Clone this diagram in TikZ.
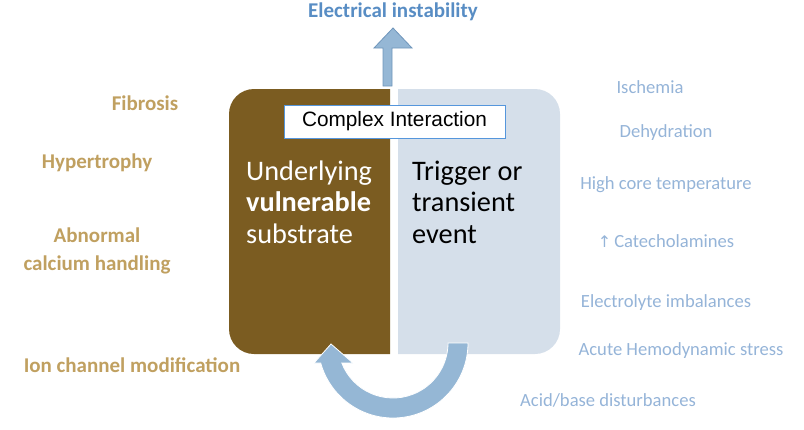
\documentclass[tikz,border=0pt]{standalone}
\usepackage{fontspec}
\usetikzlibrary{calc}
\setmainfont{Carlito}
\newfontfamily\arialf{Liberation Sans}
\newfontfamily\symf{DejaVu Sans}
\definecolor{brownbox}{RGB}{123,92,33}
\definecolor{lightbox}{RGB}{213,223,234}
\definecolor{arrowblue}{RGB}{149,183,213}
\definecolor{arrowedge}{RGB}{112,150,187}
\definecolor{titleblue}{RGB}{88,141,196}
\definecolor{goldtext}{RGB}{192,160,96}
\definecolor{paleblue}{RGB}{149,180,216}
\definecolor{cibord}{RGB}{85,150,220}
\begin{document}
\begin{tikzpicture}[x=1pt,y=-1pt,
  lefttxt/.style={text=goldtext,font=\fontsize{21}{28}\selectfont\bfseries,align=center,inner sep=0pt},
  righttxt/.style={text=paleblue,font=\fontsize{18.6}{22}\selectfont,inner sep=0pt},
  boxtxt/.style={font=\fontsize{28.3}{31.5}\selectfont,align=left,inner sep=0pt,anchor=base west}]
\useasboundingbox (0,0) rectangle (804,429);
% boxes
\fill[brownbox] (390,89) -- (254,89) arc[start angle=270,end angle=180,radius=25] -- (229,329) arc[start angle=180,end angle=90,radius=25] -- (390,354) -- cycle;
\fill[lightbox] (398,89) -- (535,89) arc[start angle=270,end angle=360,radius=25] -- (560,329) arc[start angle=0,end angle=90,radius=25] -- (398,354) -- cycle;
% up arrow
\filldraw[fill=arrowblue,draw=arrowedge,line width=0.8pt] (383,86) -- (383,48) -- (374,48) -- (393,28) -- (412,48) -- (392,48) -- (392,86) -- cycle;
\node[text=titleblue,font=\fontsize{21}{24}\selectfont\bfseries,inner sep=0pt] (elec) at (393,12) {Electrical instability};
% complex interaction
\node[draw=cibord,line width=1pt,fill=white,minimum width=221pt,minimum height=33pt,font=\arialf\fontsize{20.8}{24}\selectfont,inner sep=0pt] (ci) at (394.5,121.5) {Complex Interaction};
% box texts
\node[boxtxt,text=white] (under) at (246,243) {Underlying\\\textbf{vulnerable}\\substrate};
\node[boxtxt,text=black] (trigger) at (412,243) {Trigger or\\transient\\event};
% curved arrow
\coordinate (c) at (393,343);
\fill[arrowblue,draw=white,line width=0.8pt] ($(c)+(0:75)$) arc[start angle=0,end angle=164.5,radius=75] -- (314,363) -- (331,344) -- (353,363) -- ($(c)+(158.7:55)$) arc[start angle=158.7,end angle=0,radius=55] -- cycle;
% left labels
\node[lefttxt] (fib) at (145,103) {Fibrosis};
\node[lefttxt] (hyp) at (97,163) {Hypertrophy};
\node[lefttxt] (abn) at (97,251) {Abnormal\\calcium handling};
\node[lefttxt] (ion) at (132,365) {Ion channel modification};
% right labels
\node[righttxt] (isch) at (650,87) {Ischemia};
\node[righttxt] (dehy) at (666,133) {Dehydration};
\node[righttxt] (core) at (666,185) {High core temperature};
\node[righttxt] (cat) at (666,241) {{\symf\fontsize{16}{18}\selectfont ↑}\,Catecholamines};
\node[righttxt] (elyt) at (666,303) {Electrolyte imbalances};
\node[righttxt] (hemo) at (681,351) {Acute Hemodynamic stress};
\node[righttxt] (acid) at (608,400) {Acid/base disturbances};
\end{tikzpicture}
\end{document}
